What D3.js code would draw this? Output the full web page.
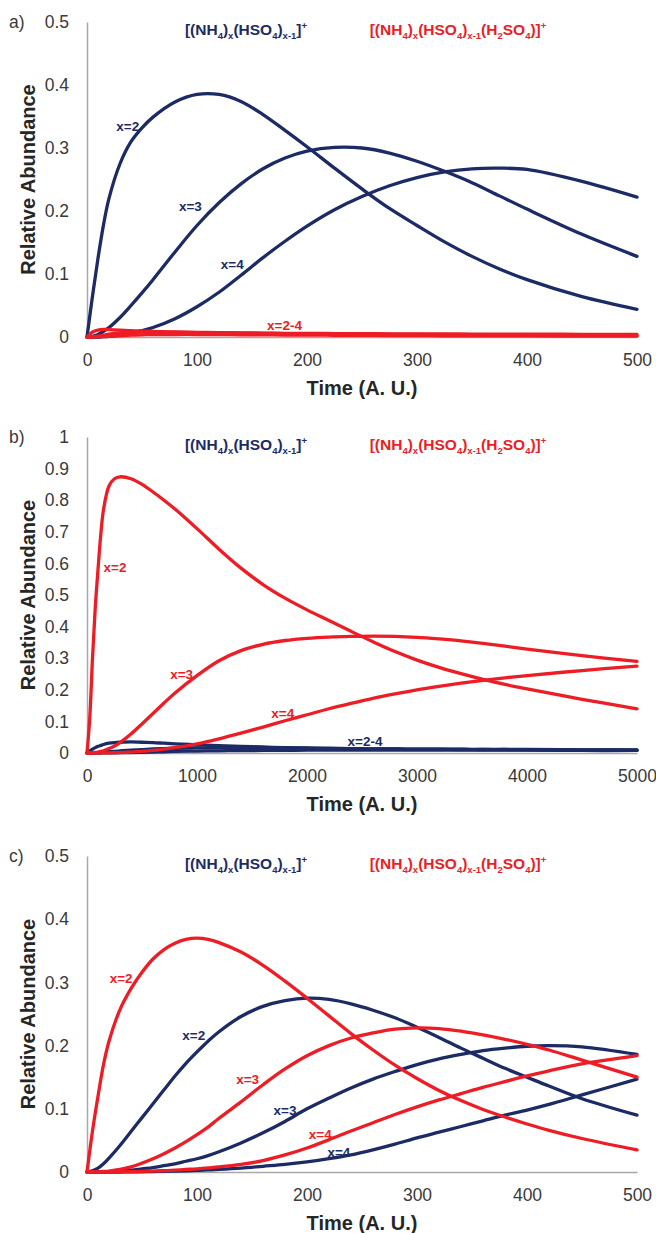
<!DOCTYPE html>
<html lang="en">
<head>
<meta charset="UTF-8">
<title>Relative Abundance vs Time</title>
<script src="https://cdn.jsdelivr.net/npm/d3@7"></script>
<style>
  body { margin: 0; background: #fff; }
  svg text { font-family: "Liberation Sans", Arial, sans-serif; }
  .axis .tick text { font-size: 17.5px; fill: #3a3a3a; }
  .axis path.domain { stroke: #a8a8a8; stroke-width: 1.5px; }
  .tag { font-size: 17.5px; fill: #3a3a3a; }
  .title { font-size: 20px; font-weight: bold; fill: #262626; }
  .legend { font-size: 15.5px; font-weight: bold; }
  .lab { font-size: 13.5px; font-weight: bold; }
  .series { fill: none; stroke-width: 3.3px; stroke-linejoin: round; stroke-linecap: round; }
</style>
</head>
<body>
<svg width="656" height="1233"></svg>
<script>
const navy = "#1c2b66", red = "#ee1c24";

// tick labels
const xTicksShort = [0, 100, 200, 300, 400, 500];
const xTicksLong = [0, 1000, 2000, 3000, 4000, 5000];
const yTicksHalf = [0, 0.1, 0.2, 0.3, 0.4, 0.5];
const yTicksFull = [0, 0.1, 0.2, 0.3, 0.4, 0.5, 0.6, 0.7, 0.8, 0.9, 1];

// panel a
const timeA = [0, 5, 10, 15, 20, 30, 40, 50, 60, 80, 100, 120, 140, 160, 180, 200, 225, 250, 275, 300, 325, 350, 375, 400, 450, 500];
const navyA2 = [0, 0.065, 0.125, 0.178, 0.22, 0.275, 0.31, 0.332, 0.349, 0.373, 0.385, 0.385, 0.374, 0.353, 0.328, 0.302, 0.268, 0.235, 0.204, 0.177, 0.151, 0.128, 0.108, 0.091, 0.064, 0.044];
const navyA3 = [0, 0.001, 0.004, 0.009, 0.015, 0.031, 0.05, 0.07, 0.091, 0.135, 0.177, 0.213, 0.243, 0.267, 0.284, 0.295, 0.301, 0.3, 0.292, 0.279, 0.263, 0.245, 0.224, 0.203, 0.163, 0.128];
const navyA4 = [0, 0, 0, 0.0005, 0.001, 0.003, 0.006, 0.01, 0.015, 0.029, 0.048, 0.071, 0.098, 0.126, 0.152, 0.176, 0.202, 0.223, 0.24, 0.253, 0.262, 0.267, 0.268, 0.266, 0.247, 0.222];
const redA2 = [0, 0.008, 0.011, 0.012, 0.0118, 0.011, 0.01, 0.0094, 0.0089, 0.008, 0.0074, 0.0069, 0.0065, 0.0062, 0.0059, 0.0057, 0.0055, 0.0053, 0.0051, 0.0049, 0.0048, 0.0047, 0.0046, 0.0045, 0.0043, 0.0041];
const redA3 = [0, 0.0005, 0.0015, 0.003, 0.0045, 0.0065, 0.0075, 0.0078, 0.0078, 0.0074, 0.007, 0.0066, 0.0062, 0.0058, 0.0055, 0.0052, 0.0048, 0.0045, 0.0042, 0.004, 0.0037, 0.0035, 0.0033, 0.0031, 0.0028, 0.0025];
const redA4 = [0, 0, 0.0002, 0.0005, 0.001, 0.002, 0.003, 0.0035, 0.0038, 0.004, 0.004, 0.0038, 0.0036, 0.0034, 0.0032, 0.003, 0.0028, 0.0026, 0.0024, 0.0022, 0.002, 0.0019, 0.0018, 0.0017, 0.0015, 0.0013];

// panel b
const timeB = [0, 25, 50, 75, 100, 125, 150, 200, 250, 300, 400, 500, 600, 700, 800, 1000, 1200, 1400, 1600, 1800, 2000, 2200, 2400, 2600, 2800, 3000, 3200, 3400, 3600, 3800, 4000, 4500, 5000];
const redB2 = [0, 0.11, 0.3, 0.46, 0.58, 0.69, 0.77, 0.845, 0.868, 0.874, 0.868, 0.85, 0.826, 0.8, 0.772, 0.71, 0.645, 0.585, 0.533, 0.49, 0.453, 0.419, 0.385, 0.352, 0.321, 0.294, 0.271, 0.251, 0.233, 0.217, 0.203, 0.17, 0.14];
const redB3 = [0, 0.0003, 0.001, 0.002, 0.003, 0.005, 0.007, 0.014, 0.022, 0.033, 0.06, 0.092, 0.125, 0.158, 0.19, 0.245, 0.292, 0.324, 0.344, 0.356, 0.363, 0.367, 0.369, 0.37, 0.369, 0.366, 0.361, 0.355, 0.347, 0.338, 0.329, 0.308, 0.29];
const redB4 = [0, 0, 0, 0, 0, 0.0002, 0.0003, 0.0006, 0.001, 0.0015, 0.003, 0.005, 0.008, 0.012, 0.017, 0.029, 0.045, 0.063, 0.082, 0.102, 0.121, 0.14, 0.157, 0.173, 0.187, 0.2, 0.211, 0.221, 0.23, 0.238, 0.245, 0.261, 0.275];
const navyB2 = [0, 0.006, 0.012, 0.017, 0.021, 0.024, 0.027, 0.031, 0.033, 0.034, 0.035, 0.034, 0.033, 0.031, 0.029, 0.026, 0.023, 0.021, 0.019, 0.017, 0.016, 0.015, 0.014, 0.013, 0.013, 0.012, 0.012, 0.011, 0.011, 0.011, 0.01, 0.01, 0.009];
const navyB3 = [0, 0, 0.0005, 0.001, 0.0015, 0.002, 0.003, 0.004, 0.005, 0.007, 0.009, 0.011, 0.013, 0.014, 0.015, 0.016, 0.016, 0.016, 0.016, 0.015, 0.015, 0.014, 0.014, 0.013, 0.013, 0.012, 0.012, 0.012, 0.011, 0.011, 0.011, 0.01, 0.01];
const navyB4 = [0, 0, 0, 0, 0, 0, 0.0002, 0.0004, 0.0006, 0.001, 0.0015, 0.002, 0.003, 0.004, 0.005, 0.006, 0.007, 0.0075, 0.008, 0.0085, 0.009, 0.009, 0.009, 0.009, 0.009, 0.009, 0.009, 0.009, 0.009, 0.009, 0.009, 0.008, 0.008];

// panel c
const timeC = [0, 5, 10, 15, 20, 30, 40, 50, 60, 70, 80, 90, 100, 110, 120, 140, 160, 180, 200, 220, 240, 260, 280, 300, 320, 340, 360, 380, 400, 420, 450, 500];
const redC2 = [0, 0.065, 0.12, 0.17, 0.207, 0.257, 0.29, 0.316, 0.337, 0.352, 0.362, 0.368, 0.37, 0.368, 0.363, 0.348, 0.327, 0.302, 0.275, 0.247, 0.219, 0.193, 0.169, 0.148, 0.129, 0.113, 0.099, 0.087, 0.076, 0.066, 0.053, 0.035];
const navyC2 = [0, 0.002, 0.006, 0.013, 0.022, 0.042, 0.064, 0.086, 0.108, 0.13, 0.152, 0.172, 0.19, 0.207, 0.222, 0.246, 0.262, 0.271, 0.275, 0.273, 0.266, 0.256, 0.244, 0.229, 0.213, 0.196, 0.18, 0.164, 0.15, 0.136, 0.116, 0.09];
const redC3 = [0, 0, 0.0003, 0.0008, 0.0015, 0.004, 0.008, 0.014, 0.021, 0.029, 0.038, 0.048, 0.059, 0.071, 0.085, 0.111, 0.138, 0.163, 0.184, 0.2, 0.212, 0.22, 0.226, 0.228, 0.227, 0.223, 0.217, 0.21, 0.202, 0.193, 0.177, 0.15];
const navyC3 = [0, 0, 0, 0.0002, 0.0005, 0.0015, 0.003, 0.005, 0.007, 0.01, 0.013, 0.017, 0.021, 0.026, 0.032, 0.046, 0.062, 0.08, 0.1, 0.117, 0.133, 0.147, 0.159, 0.17, 0.179, 0.186, 0.192, 0.196, 0.199, 0.2, 0.198, 0.186];
const redC4 = [0, 0, 0, 0, 0, 0.0002, 0.0005, 0.001, 0.0015, 0.002, 0.003, 0.004, 0.005, 0.0065, 0.008, 0.012, 0.018, 0.027, 0.038, 0.051, 0.065, 0.078, 0.091, 0.103, 0.114, 0.124, 0.134, 0.143, 0.152, 0.16, 0.171, 0.184];
const navyC4 = [0, 0, 0, 0, 0, 0, 0.0002, 0.0004, 0.0007, 0.001, 0.0014, 0.002, 0.0026, 0.0033, 0.004, 0.006, 0.009, 0.012, 0.016, 0.021, 0.027, 0.035, 0.044, 0.054, 0.063, 0.072, 0.081, 0.09, 0.098, 0.107, 0.122, 0.147];

// curve labels: text, time, abundance, colour
const labelsA = [["x=2", 37, 0.335, navy], ["x=3", 94, 0.207, navy], ["x=4", 132, 0.116, navy], ["x=2-4", 179.5, 0.018, red]];
const labelsB = [["x=2", 255, 0.589, red], ["x=3", 860, 0.25, red], ["x=4", 1780, 0.127, red], ["x=2-4", 2527, 0.036, navy]];
const labelsC = [["x=2", 31, 0.306, red], ["x=2", 97, 0.216, navy], ["x=3", 146, 0.147, red], ["x=3", 180, 0.097, navy], ["x=4", 212, 0.06, red], ["x=4", 229, 0.032, navy]];

// legend text pieces: 0 normal, 1 subscript, 2 superscript
const legendNavy = [["[(NH", 0], ["4", 1], [")", 0], ["x", 1], ["(HSO", 0], ["4", 1], [")", 0], ["x-1", 1], ["]", 0], ["+", 2]];
const legendRed = [["[(NH", 0], ["4", 1], [")", 0], ["x", 1], ["(HSO", 0], ["4", 1], [")", 0], ["x-1", 1], ["(H", 0], ["2", 1], ["SO", 0], ["4", 1], [")]", 0], ["+", 2]];

const panels = [
    { tag: "a)", top: 22, bottom: 337, tMax: 500, yMax: 0.5, xTicks: xTicksShort, yTicks: yTicksHalf, time: timeA,
      lines: [[navyA2, navy], [navyA3, navy], [navyA4, navy], [redA2, red], [redA3, red], [redA4, red]], labels: labelsA },
    { tag: "b)", top: 437, bottom: 753, tMax: 5000, yMax: 1, xTicks: xTicksLong, yTicks: yTicksFull, time: timeB,
      lines: [[navyB2, navy], [navyB3, navy], [navyB4, navy], [redB2, red], [redB3, red], [redB4, red]], labels: labelsB },
    { tag: "c)", top: 856, bottom: 1172, tMax: 500, yMax: 0.5, xTicks: xTicksShort, yTicks: yTicksHalf, time: timeC,
      lines: [[navyC2, navy], [navyC3, navy], [navyC4, navy], [redC2, red], [redC3, red], [redC4, red]], labels: labelsC }
];

const svg = d3.select("svg");
const left = 87, right = 637;

function legend(g, parts, cx, y, color) {
    const t = g.append("text").attr("class", "legend").attr("x", cx).attr("y", y)
        .attr("text-anchor", "middle").attr("fill", color);
    let shift = 0;
    parts.forEach(([s, k]) => {
        const want = k == 1 ? 4 : k == 2 ? -6 : 0;
        t.append("tspan").attr("dy", want - shift)
            .style("font-size", k ? "9.5px" : null).text(s);
        shift = want;
    });
}

panels.forEach(p => {
    const x = d3.scaleLinear().domain([0, p.tMax]).range([left, right]);
    const y = d3.scaleLinear().domain([0, p.yMax]).range([p.bottom, p.top]);
    const g = svg.append("g");

    g.append("g").attr("class", "axis")
        .attr("transform", `translate(0,${p.bottom})`)
        .call(d3.axisBottom(x).tickValues(p.xTicks).tickSize(0).tickPadding(17).tickFormat(d => d));
    g.append("g").attr("class", "axis")
        .attr("transform", `translate(${left},0)`)
        .call(d3.axisLeft(y).tickValues(p.yTicks).tickSize(0).tickPadding(18).tickFormat(d => d));

    const line = d3.line()
        .x((d, i) => x(p.time[i]))
        .y(d => y(Math.max(0, d)))
        .curve(d3.curveCatmullRom.alpha(0.5));

    g.selectAll("path.series").data(p.lines).enter().append("path")
        .attr("class", "series")
        .attr("stroke", d => d[1])
        .attr("d", d => line(d[0]));

    g.selectAll("text.lab").data(p.labels).enter().append("text")
        .attr("class", "lab")
        .attr("x", d => x(d[1])).attr("y", d => y(d[2]))
        .attr("dy", "0.35em").attr("text-anchor", "middle")
        .attr("fill", d => d[3]).text(d => d[0]);

    g.append("text").attr("class", "tag").attr("x", 9).attr("y", p.top + 6).text(p.tag);

    legend(g, legendNavy, 246, p.top + 13, navy);
    legend(g, legendRed, 458, p.top + 13, red);

    g.append("text").attr("class", "title")
        .attr("x", (left + right) / 2).attr("y", p.bottom + 58)
        .attr("text-anchor", "middle").text("Time (A. U.)");
    g.append("text").attr("class", "title")
        .attr("transform", `translate(35,${(p.top + p.bottom) / 2}) rotate(-90)`)
        .attr("text-anchor", "middle").text("Relative Abundance");
});
</script>
</body>
</html>
